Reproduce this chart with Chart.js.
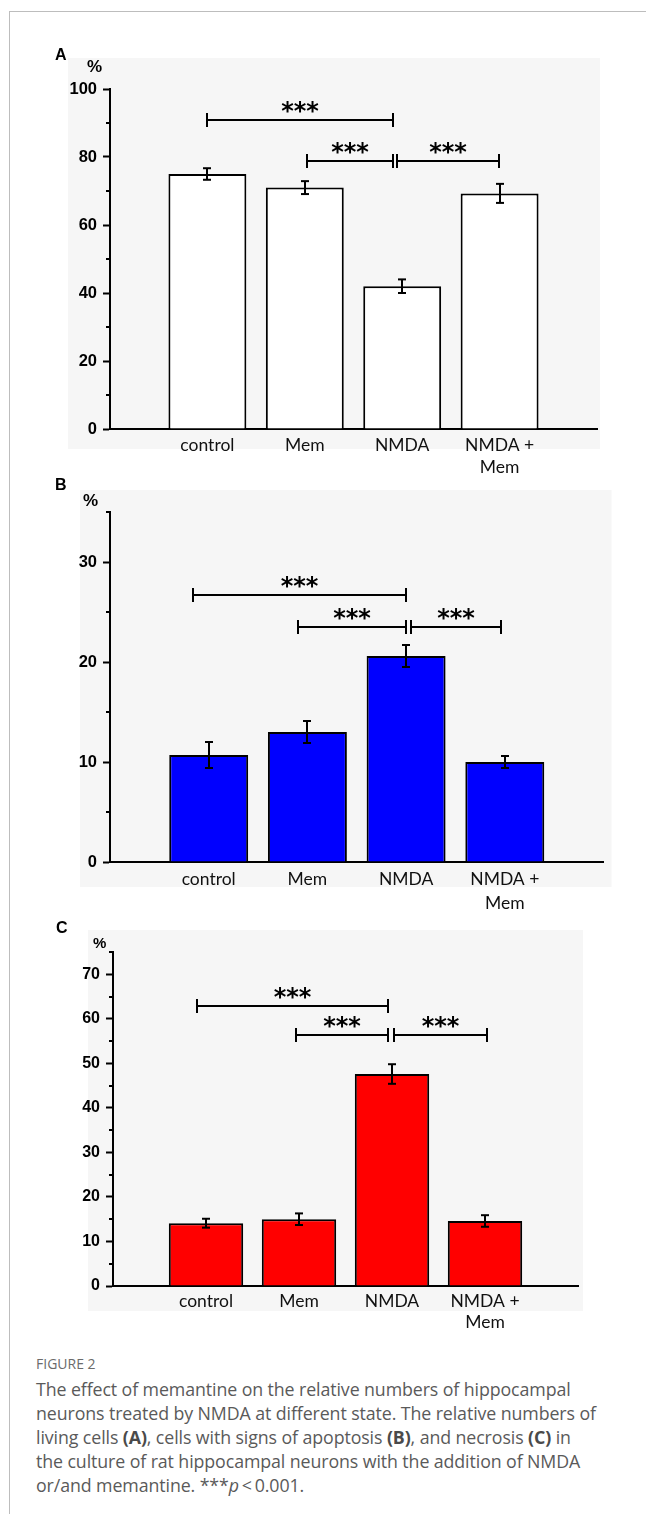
<!DOCTYPE html>
<html>
<head>
<meta charset="utf-8">
<script src="https://cdn.jsdelivr.net/npm/chart.js@4.4.0/dist/chart.umd.min.js"></script>
<style>
  html, body { margin: 0; padding: 0; background: #fff; }
  body { width: 646px; height: 1514px; position: relative; overflow: hidden; }
  .frame { position: absolute; left: 9px; top: 11px; right: -2px; bottom: -2px; border-left: 1px solid #bdbdbd; border-top: 1px solid #bdbdbd; }
  .panel { position: absolute; left: 0; width: 646px; }
  .tag { position: absolute; font: bold 16px "Liberation Sans", Arial, sans-serif; line-height: 16px; color: #000; }
  .pct { position: absolute; font: bold 17px "Liberation Sans", Arial, sans-serif; line-height: 17px; color: #000; }
  .fig { position: absolute; left: 36px; top: 1355px; font: 14px/18px "Open Sans", sans-serif; color: #6b6b6b; }
  .caption { position: absolute; left: 36px; top: 1377px; font: 17.8px/24px "Open Sans", sans-serif; color: #5a5a5a; white-space: nowrap; letter-spacing: -0.1px; }
  .caption b { font-weight: 700; color: #4a4a4a; }
</style>
</head>
<body>
<div class="frame"></div>

<div class="panel" style="top:40px; height:450px;"><canvas id="chartA"></canvas></div>
<div class="panel" style="top:470px; height:450px;"><canvas id="chartB"></canvas></div>
<div class="panel" style="top:910px; height:435px;"><canvas id="chartC"></canvas></div>

<div class="tag" style="left:55px; top:47px;">A</div>
<div class="pct" style="left:87px; top:58px;">%</div>
<div class="tag" style="left:55px; top:477px;">B</div>
<div class="pct" style="left:83px; top:492px;">%</div>
<div class="tag" style="left:56px; top:920px;">C</div>
<div class="pct" style="left:93px; top:935px; font-size:15px; line-height:15px;">%</div>

<div class="fig">FIGURE 2</div>
<div class="caption">The effect of memantine on the relative numbers of hippocampal<br>neurons treated by NMDA at different state. The relative numbers of<br>living cells <b>(A)</b>, cells with signs of apoptosis <b>(B)</b>, and necrosis <b>(C)</b> in<br>the culture of rat hippocampal neurons with the addition of NMDA<br>or/and memantine. ***<i>p</i>&#8201;&lt;&#8201;0.001.</div>

<script>
// groups, placed at x = 1..4 on a linear axis
const categories = ['control', 'Mem', 'NMDA', ['NMDA +', 'Mem']];
const positions = [1, 2, 3, 4];

// A: living cells, %
const livingCells = [75.0, 71.0, 42.0, 69.3];
const livingErr = [1.7, 1.9, 2.0, 2.8];

// B: apoptosis, %
const apoptosis = [10.7, 13.0, 20.6, 10.0];
const apoptosisErr = [1.3, 1.1, 1.1, 0.6];

// C: necrosis, %
const necrosis = [14.1, 15.0, 47.6, 14.6];
const necrosisErr = [1.0, 1.3, 2.2, 1.3];

// significance brackets: [from x, to x, level]
const bracketsA = [[1.0, 2.91, 90.9], [2.02, 2.91, 78.8], [2.95, 3.99, 78.8]];
const bracketsB = [[0.84, 3.0, 26.7], [1.9, 3.0, 23.5], [3.05, 3.96, 23.5]];
const bracketsC = [[0.9, 2.96, 62.9], [1.97, 2.96, 56.4], [3.02, 4.02, 56.4]];
const starLabel = '***';

const hline = (ctx, x1, x2, y) => { ctx.beginPath(); ctx.moveTo(x1, y); ctx.lineTo(x2, y); ctx.stroke(); };
const vline = (ctx, x, y1, y2) => { ctx.beginPath(); ctx.moveTo(x, y1); ctx.lineTo(x, y2); ctx.stroke(); };

const annotate = {
    id: 'annotate',
    beforeDraw(chart, args, o) {
        const { ctx, chartArea: a } = chart;
        const [l, t, r, b] = o.shade;
        ctx.save();
        ctx.fillStyle = '#f6f6f6';
        ctx.fillRect(a.left - l, a.top - t, a.right - a.left + l + r, a.bottom - a.top + t + b);
        ctx.restore();
    },
    afterDraw(chart, args, o) {
        const { ctx } = chart;
        const xs = chart.scales.x;
        const ys = chart.scales.y;
        ctx.save();
        ctx.strokeStyle = '#000';
        ctx.fillStyle = '#000';
        ctx.lineWidth = 2;

        // minor ticks halfway between the labelled ones
        for (let v = o.step / 2; v <= ys.max + 0.001; v += o.step) {
            const py = Math.round(ys.getPixelForValue(v));
            hline(ctx, ys.right - 4, ys.right, py);
        }

        // error bars
        o.values.forEach((v, i) => {
            const px = Math.round(xs.getPixelForValue(positions[i]));
            const top = ys.getPixelForValue(v + o.errors[i]);
            const bot = ys.getPixelForValue(v - o.errors[i]);
            vline(ctx, px, top, bot);
            hline(ctx, px - 4, px + 4, top);
            hline(ctx, px - 4, px + 4, bot);
        });

        // brackets with stars
        ctx.font = 'bold 24px "DejaVu Sans"';
        ctx.textAlign = 'center';
        ctx.textBaseline = 'alphabetic';
        o.brackets.forEach(([a, b, lvl]) => {
            const x1 = Math.round(xs.getPixelForValue(a));
            const x2 = Math.round(xs.getPixelForValue(b));
            const py = Math.round(ys.getPixelForValue(lvl));
            hline(ctx, x1, x2, py);
            vline(ctx, x1, py - 7, py + 7);
            vline(ctx, x2, py - 7, py + 7);
            ctx.fillText(starLabel, (x1 + x2) / 2, py - 1);
        });
        ctx.restore();
    }
};

const makeChart = (id, values, errors, fill, brackets, p) => {
    const ctx = document.getElementById(id).getContext('2d');
    return new Chart(ctx, {
        type: 'bar',
        data: {
            datasets: [{
                data: positions.map((x, i) => ({ x, y: values[i] })),
                backgroundColor: fill,
                borderColor: '#000',
                borderWidth: 2,
                barPercentage: 1,
                categoryPercentage: 0.8
            }]
        },
        options: {
            responsive: true,
            maintainAspectRatio: false,
            animation: false,
            events: [],
            layout: { padding: { top: p.top, right: p.right, left: 0, bottom: 0 } },
            plugins: {
                legend: { display: false },
                tooltip: { enabled: false },
                annotate: { values, errors, brackets, step: p.step, shade: p.shade }
            },
            scales: {
                x: {
                    type: 'linear',
                    min: 0,
                    max: 5,
                    offset: false,
                    afterFit: (s) => { s.height = p.xh; },
                    grid: { display: false, drawTicks: false },
                    border: { display: true, color: '#000', width: 2 },
                    ticks: {
                        stepSize: 1,
                        autoSkip: false,
                        maxRotation: 0,
                        padding: 5,
                        color: '#111',
                        font: { family: 'Lato', size: 17.5, lineHeight: p.lh + 'px' },
                        callback: (v) => (Number.isInteger(v) && v >= 1 && v <= 4 ? categories[v - 1] : '')
                    }
                },
                y: {
                    min: 0,
                    max: p.yMax,
                    afterFit: (s) => { s.width = p.yw; },
                    grid: { drawOnChartArea: false, drawTicks: true, tickLength: 7, tickWidth: 2, tickColor: '#000' },
                    border: { display: true, color: '#000', width: 2 },
                    ticks: {
                        stepSize: p.step,
                        includeBounds: false,
                        padding: 6,
                        color: '#000',
                        font: { family: '"Liberation Sans", Arial', weight: 'bold', size: p.fs }
                    }
                }
            }
        },
        plugins: [annotate]
    });
};

makeChart('chartA', livingCells, livingErr, '#ffffff', bracketsA,
    { top: 49, right: 49, xh: 61, yw: 110, yMax: 100, step: 20, lh: 22, fs: 16.5, shade: [42, 31, 3, 20] });
makeChart('chartB', apoptosis, apoptosisErr, '#0000ff', bracketsB,
    { top: 42, right: 42.5, xh: 58, yw: 110, yMax: 35, step: 10, lh: 24, fs: 16.5, shade: [30, 22, 8, 25] });
makeChart('chartC', necrosis, necrosisErr, '#ff0000', bracketsC,
    { top: 42, right: 68, xh: 59, yw: 113, yMax: 75, step: 10, lh: 21, fs: 16, shade: [25, 22, 5, 25] });
</script>
</body>
</html>
